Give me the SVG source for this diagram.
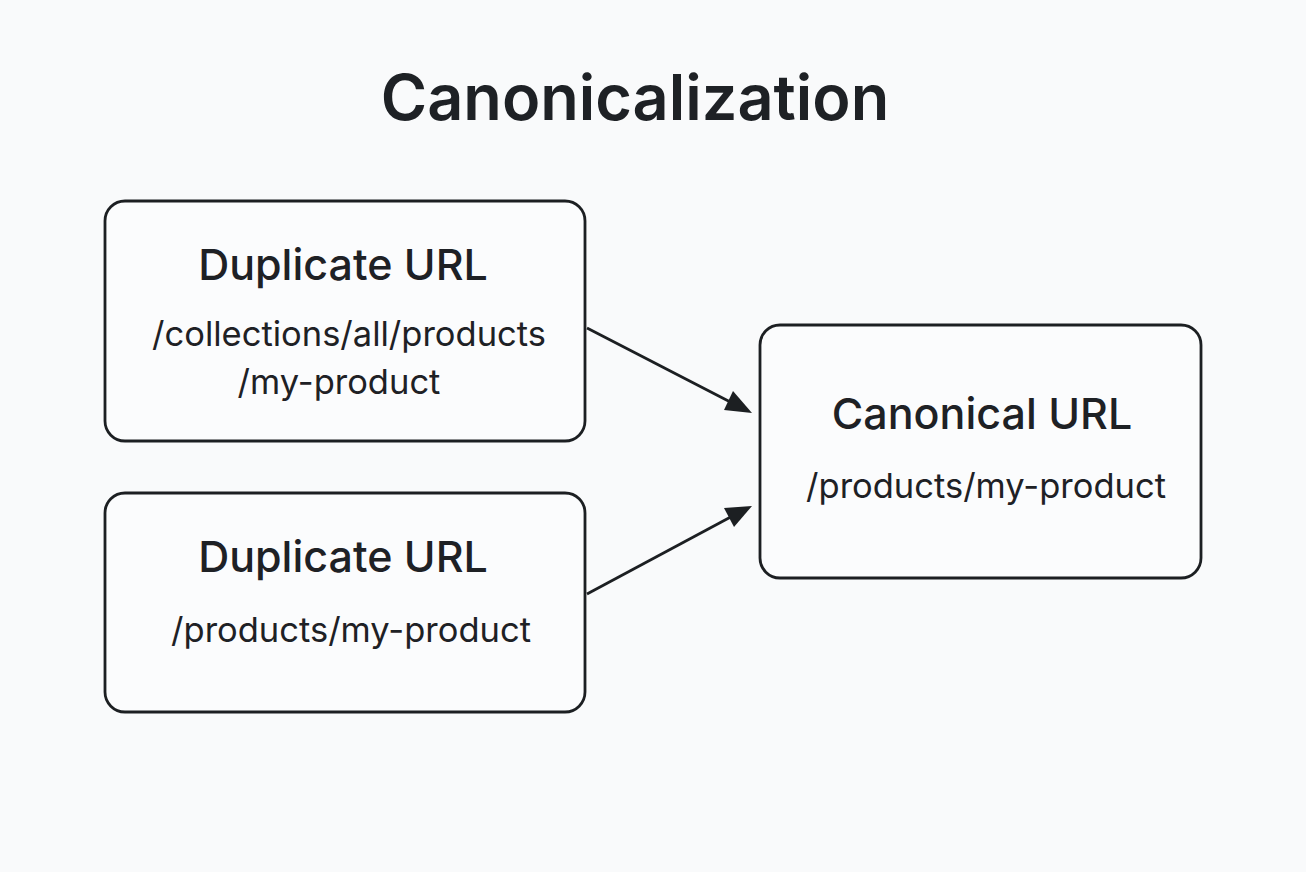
<svg xmlns="http://www.w3.org/2000/svg" width="1306" height="872" viewBox="0 0 1306 872">
  <style>
    .box { fill: #fbfcfd; stroke: #1c1f22; stroke-width: 2.8; }
    .title { font-family: Inter, "Liberation Sans", sans-serif; font-weight: 600; font-size: 63px; fill: #1e2125; text-anchor: middle; }
    .head { font-family: Inter, "Liberation Sans", sans-serif; font-weight: 500; font-size: 43px; fill: #1e2125; text-anchor: middle; }
    .sub { font-family: Inter, "Liberation Sans", sans-serif; font-weight: 400; font-size: 34.5px; fill: #1e2125; text-anchor: middle; }
    .edge { stroke: #1c1f22; stroke-width: 2.8; fill: none; }
    .head-tip { fill: #1c1f22; }
  </style>
  <rect width="1306" height="872" fill="#f9fafb"/>

  <text class="title" x="635" y="120">Canonicalization</text>

  <g id="connectors">
    <line class="edge" x1="587" y1="328" x2="740" y2="407"/>
    <path class="head-tip" d="M733,391 L752,413 L724,410 z"/>
    <line class="edge" x1="587" y1="594" x2="740" y2="512"/>
    <path class="head-tip" d="M724,508 L752,506 L734,527 z"/>
  </g>

  <g id="dup1">
    <rect class="box" x="105" y="201" width="480" height="240" rx="20"/>
    <text class="head" x="343" y="280">Duplicate URL</text>
    <text class="sub" x="349" y="346">/collections/all/products</text>
    <text class="sub" x="339" y="394">/my-product</text>
  </g>

  <g id="dup2">
    <rect class="box" x="105" y="493" width="480" height="219" rx="20"/>
    <text class="head" x="343" y="572">Duplicate URL</text>
    <text class="sub" x="351" y="642">/products/my-product</text>
  </g>

  <g id="canonical">
    <rect class="box" x="760" y="325" width="441" height="253" rx="20"/>
    <text class="head" x="982" y="429">Canonical URL</text>
    <text class="sub" x="986" y="498">/products/my-product</text>
  </g>
</svg>
